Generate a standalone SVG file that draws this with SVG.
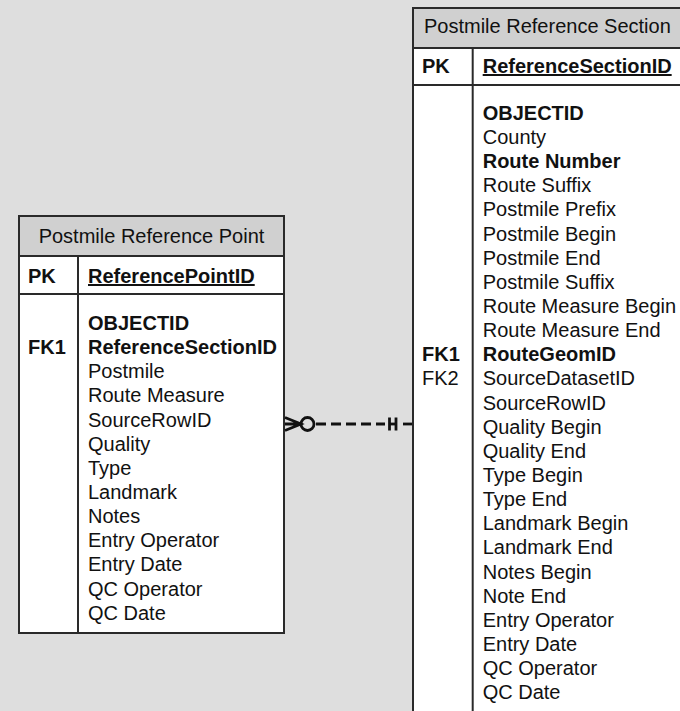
<svg xmlns="http://www.w3.org/2000/svg" width="680" height="711" viewBox="0 0 680 711">
<style>
text{font-family:"Liberation Sans",Arial,sans-serif;font-size:20px;fill:#111}
.b{font-weight:bold}
.u{text-decoration:underline}
.box{fill:#fff;stroke:#2a2a2a;stroke-width:2}
.hdr{fill:#d0d0d0;stroke:#2a2a2a;stroke-width:2}
.ln{stroke:#2a2a2a;stroke-width:2;fill:none}
.cn{stroke:#111;stroke-width:2.8;fill:none}
</style>
<rect x="0" y="0" width="680" height="711" fill="#dedede"/>
<g id="point">
<rect class="box" x="19" y="216" width="265" height="417"/>
<rect class="hdr" x="19" y="216" width="265" height="40"/>
<line class="ln" x1="19" y1="294" x2="284" y2="294"/>
<line class="ln" x1="78" y1="256" x2="78" y2="633"/>
<text x="151.5" y="243" text-anchor="middle">Postmile Reference Point</text>
<text class="b" x="28" y="283">PK</text>
<text class="b u" x="88" y="283">ReferencePointID</text>
<text class="b" x="88" y="330">OBJECTID</text>
<text class="b" x="28" y="354">FK1</text>
<text class="b" x="88" y="354">ReferenceSectionID</text>
<text x="88" y="378">Postmile</text>
<text x="88" y="402">Route Measure</text>
<text x="88" y="427">SourceRowID</text>
<text x="88" y="451">Quality</text>
<text x="88" y="475">Type</text>
<text x="88" y="499">Landmark</text>
<text x="88" y="523">Notes</text>
<text x="88" y="547">Entry Operator</text>
<text x="88" y="571">Entry Date</text>
<text x="88" y="596">QC Operator</text>
<text x="88" y="620">QC Date</text>
</g>
<g id="section">
<rect class="box" x="413" y="8" width="290" height="730"/>
<rect class="hdr" x="413" y="8" width="290" height="40"/>
<line class="ln" x1="413" y1="85" x2="703" y2="85"/>
<line class="ln" x1="472.7" y1="48" x2="472.7" y2="738"/>
<text x="424" y="33">Postmile Reference Section</text>
<text class="b" x="422" y="73">PK</text>
<text class="b u" x="482.7" y="73">ReferenceSectionID</text>
<text class="b" x="482.7" y="120">OBJECTID</text>
<text x="482.7" y="144">County</text>
<text class="b" x="482.7" y="168">Route Number</text>
<text x="482.7" y="192">Route Suffix</text>
<text x="482.7" y="216">Postmile Prefix</text>
<text x="482.7" y="241">Postmile Begin</text>
<text x="482.7" y="265">Postmile End</text>
<text x="482.7" y="289">Postmile Suffix</text>
<text x="482.7" y="313">Route Measure Begin</text>
<text x="482.7" y="337">Route Measure End</text>
<text class="b" x="422" y="361">FK1</text>
<text class="b" x="482.7" y="361">RouteGeomID</text>
<text x="422" y="385">FK2</text>
<text x="482.7" y="385">SourceDatasetID</text>
<text x="482.7" y="410">SourceRowID</text>
<text x="482.7" y="434">Quality Begin</text>
<text x="482.7" y="458">Quality End</text>
<text x="482.7" y="482">Type Begin</text>
<text x="482.7" y="506">Type End</text>
<text x="482.7" y="530">Landmark Begin</text>
<text x="482.7" y="554">Landmark End</text>
<text x="482.7" y="579">Notes Begin</text>
<text x="482.7" y="603">Note End</text>
<text x="482.7" y="627">Entry Operator</text>
<text x="482.7" y="651">Entry Date</text>
<text x="482.7" y="675">QC Operator</text>
<text x="482.7" y="699">QC Date</text>
</g>
<g id="connectors">
<path class="cn" d="M285 417.5 L301 424 L285 430.5 M285 424 L301 424"/>
<circle class="cn" cx="307.5" cy="424" r="6.5" fill="#dedede"/>
<line class="cn" x1="316" y1="424" x2="385" y2="424" stroke-dasharray="10 5"/>
<line class="cn" x1="389" y1="424" x2="396" y2="424"/>
<line class="cn" x1="389.5" y1="417.5" x2="389.5" y2="430.5"/>
<line class="cn" x1="396" y1="417.5" x2="396" y2="430.5"/>
<line class="cn" x1="403" y1="424" x2="412" y2="424"/>
</g>
</svg>
